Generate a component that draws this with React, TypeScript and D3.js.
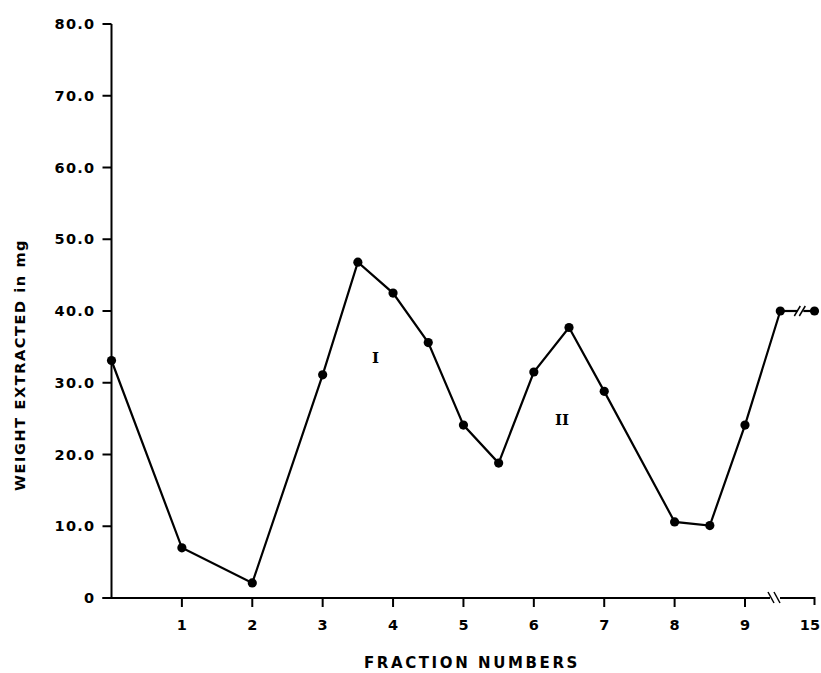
import React from "react";
import * as d3 from "d3";

// fraction number (15 sits after the axis break) and mg extracted
const fractions = [0, 1, 2, 3, 3.5, 4, 4.5, 5, 5.5, 6, 6.5, 7, 8, 8.5, 9, 9.5, 15];
const weights = [33.1, 7.0, 2.1, 31.1, 46.8, 42.5, 35.6, 24.1, 18.8, 31.5, 37.7, 28.8, 10.6, 10.1, 24.1, 40.0, 40.0];

const xTicks = [1, 2, 3, 4, 5, 6, 7, 8, 9, 15];
const yTicks = [0, 10, 20, 30, 40, 50, 60, 70, 80];

const peakLabels = [
  { text: "I", x: 3.75, y: 33.5 },
  { text: "II", x: 6.4, y: 24.8 },
];

const W = 821;
const H = 673;
const font = "'DejaVu Sans', sans-serif";

const App = () => {
  // polylinear scale squeezes 9.5 -> 15 into the broken stretch
  const x = d3.scaleLinear().domain([0, 9, 9.5, 15]).range([111.5, 745, 780.3, 814.5]);
  const y = d3.scaleLinear().domain([0, 80]).range([598, 24]);

  const pts = fractions.map((f, i) => ({ f, w: weights[i] }));
  const main = pts.slice(0, pts.length - 1);
  const last2 = pts.slice(pts.length - 2);

  const line = d3
    .line<{ f: number; w: number }>()
    .x((d) => x(d.f))
    .y((d) => y(d.w));

  // line break between 9.5 and 15
  const bx1 = x(9.5) + 17;
  const bx2 = x(9.5) + 22;
  const by = y(last2[0].w);
  const ax1 = 771;
  const ax2 = 777;
  const y0 = y(0);

  return (
    <svg width={W} height={H} style={{ position: "absolute", left: 0, top: 0, background: "#fff" }}>
      <g stroke="#000" strokeWidth={2} fill="none">
        {/* y axis */}
        <path d={`M${x(0)},${y(80)}V${y0}`} />
        {yTicks.map((t) => (
          <line key={t} x1={x(0) - 9} x2={x(0)} y1={y(t)} y2={y(t)} />
        ))}
        {/* x axis with break */}
        <path d={`M${x(0) - 9},${y0}H${ax1 - 1}`} />
        <path d={`M${ax2 + 3},${y0}H${x(15)}V${y0 + 7}`} />
        <line x1={ax1 - 3} y1={y0 - 6} x2={ax1 + 3} y2={y0 + 5} strokeWidth={1.5} />
        <line x1={ax2 - 3} y1={y0 - 6} x2={ax2 + 3} y2={y0 + 5} strokeWidth={1.5} />
        {xTicks.slice(0, -1).map((t) => (
          <line key={t} x1={x(t)} x2={x(t)} y1={y0} y2={y0 + 9} />
        ))}
      </g>

      <g stroke="#000" strokeWidth={2.2} fill="none">
        <path d={line(main) || ""} />
        <path d={`M${x(last2[0].f)},${by}H${bx1}`} />
        <path d={`M${bx2 + 1},${by}H${x(last2[1].f)}`} />
        <line x1={bx1 - 3} y1={by + 5} x2={bx1 + 3} y2={by - 5} strokeWidth={1.5} />
        <line x1={bx2 - 3} y1={by + 5} x2={bx2 + 3} y2={by - 5} strokeWidth={1.5} />
      </g>

      {pts.map((d, i) => (
        <circle key={i} cx={x(d.f)} cy={y(d.w)} r={4.6} fill="#000" />
      ))}

      <g fontFamily={font} fontWeight="bold" fontSize={14.5} fill="#000">
        {yTicks.map((t) => (
          <text key={t} x={x(0) - 16} y={y(t)} dy="0.36em" textAnchor="end" letterSpacing={1.3}>
            {t === 0 ? "0" : t.toFixed(1)}
          </text>
        ))}
        {xTicks.map((t) => (
          <text
            key={t}
            x={t === 15 ? 820 : x(t)}
            y={y0 + 32}
            textAnchor={t === 15 ? "end" : "middle"}
          >
            {t}
          </text>
        ))}
        <text x={472} y={668} textAnchor="middle" fontSize={15} letterSpacing={2.6}>
          FRACTION NUMBERS
        </text>
        <text
          transform={`translate(25,${365}) rotate(-90)`}
          textAnchor="middle"
          fontSize={14.5}
          letterSpacing={1.6}
        >
          WEIGHT EXTRACTED in mg
        </text>
        {peakLabels.map((p) => (
          <text
            key={p.text}
            x={x(p.x)}
            y={y(p.y)}
            dy="0.36em"
            textAnchor="middle"
            fontFamily="'DejaVu Serif', serif"
            fontSize={15}
          >
            {p.text}
          </text>
        ))}
      </g>
    </svg>
  );
};

export default App;
